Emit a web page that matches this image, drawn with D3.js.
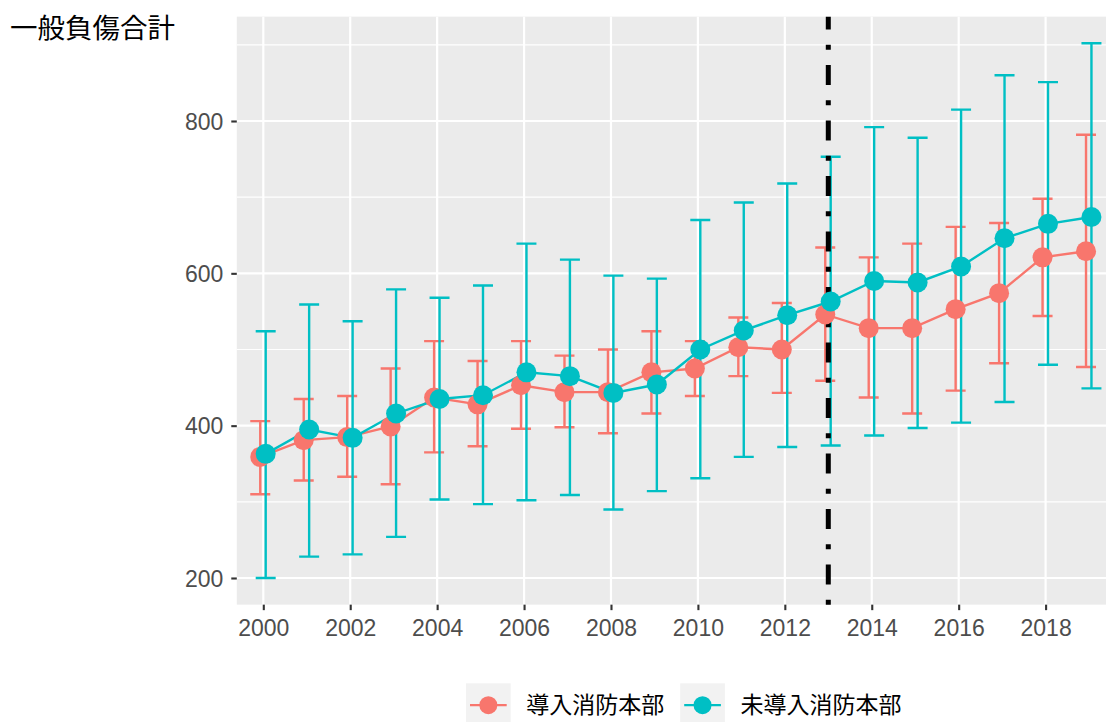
<!DOCTYPE html>
<html>
<head>
<meta charset="utf-8">
<script src="https://cdn.jsdelivr.net/npm/d3@7.9.0/dist/d3.min.js"></script>
<style>
  body { margin: 0; background: #fff; }
  svg { display: block; }
</style>
</head>
<body>
<svg id="chart" width="1106" height="722"></svg>
<script>
// years on the x axis
const years = [2000, 2001, 2002, 2003, 2004, 2005, 2006, 2007, 2008, 2009,
               2010, 2011, 2012, 2013, 2014, 2015, 2016, 2017, 2018, 2019];

// 導入消防本部
const introMean = [359, 381, 385, 399, 437, 428, 453, 444, 444, 470, 475, 503, 500, 546, 528, 528, 553, 574, 621, 629];
const introHigh = [406, 435, 439, 475, 511, 485, 511, 492, 500, 524, 511, 542, 561, 634, 621, 639, 661, 666, 698, 782];
const introLow  = [310, 328, 333, 323, 365, 373, 396, 398, 390, 416, 439, 465, 443, 459, 437, 416, 446, 482, 544, 477];

// 未導入消防本部
const otherMean = [363, 395, 384, 416, 435, 440, 470, 465, 443, 454, 500, 525, 545, 563, 590, 588, 609, 646, 665, 674];
const otherHigh = [524, 559, 537, 579, 568, 584, 639, 618, 597, 593, 670, 693, 718, 753, 792, 778, 815, 860, 851, 902];
const otherLow  = [200, 228, 231, 254, 303, 297, 302, 309, 290, 314, 331, 359, 372, 374, 387, 397, 404, 431, 480, 449];

const seriesNames = ['導入消防本部', '未導入消防本部'];
const yTicks = [200, 400, 600, 800];
const yMinor = [300, 500, 700, 900];
const xTicks = [2000, 2002, 2004, 2006, 2008, 2010, 2012, 2014, 2016, 2018];
const cutYear = 2013;
const yTitle = '一般負傷合計';

const colors = ['#F8766D', '#00BFC4'];

const series = [
    { name: seriesNames[0], color: colors[0], dodge: -0.07,
      rows: years.map((yr, i) => ({ year: yr, mean: introMean[i], hi: introHigh[i], lo: introLow[i] })) },
    { name: seriesNames[1], color: colors[1], dodge: 0.055,
      rows: years.map((yr, i) => ({ year: yr, mean: otherMean[i], hi: otherHigh[i], lo: otherLow[i] })) }
];

const svg = d3.select('#chart');

const x = d3.scaleLinear().domain([2000, 2018]).range([263.3, 1045.6]);
const y = d3.scaleLinear().domain([200, 800]).range([578, 121]);

const panelLeft = x(1999.39);
const panelRight = 1106;
const panelTop = y(937);
const panelBottom = y(165);

// panel background
svg.append('rect')
    .attr('x', panelLeft).attr('y', panelTop)
    .attr('width', panelRight - panelLeft)
    .attr('height', panelBottom - panelTop)
    .attr('fill', '#ebebeb');

const grid = svg.append('g');
grid.selectAll('line.minor')
    .data(yMinor)
    .join('line')
    .attr('class', 'minor')
    .attr('x1', panelLeft).attr('x2', panelRight)
    .attr('y1', d => y(d)).attr('y2', d => y(d))
    .attr('stroke', '#fff').attr('stroke-width', 1.1);
grid.selectAll('line.majorY')
    .data(yTicks)
    .join('line')
    .attr('class', 'majorY')
    .attr('x1', panelLeft).attr('x2', panelRight)
    .attr('y1', d => y(d)).attr('y2', d => y(d))
    .attr('stroke', '#fff').attr('stroke-width', 2.2);
grid.selectAll('line.majorX')
    .data(xTicks)
    .join('line')
    .attr('class', 'majorX')
    .attr('x1', d => x(d)).attr('x2', d => x(d))
    .attr('y1', panelTop).attr('y2', panelBottom)
    .attr('stroke', '#fff').attr('stroke-width', 2.2);

// axes
const xAxis = svg.append('g')
    .attr('transform', `translate(0,${panelBottom})`)
    .call(d3.axisBottom(x).tickValues(xTicks).tickFormat(d3.format('d')).tickSize(5.5).tickPadding(4));
const yAxis = svg.append('g')
    .attr('transform', `translate(${panelLeft},0)`)
    .call(d3.axisLeft(y).tickValues(yTicks).tickSize(5.5).tickPadding(8));

[xAxis, yAxis].forEach(ax => {
    ax.select('.domain').remove();
    ax.selectAll('.tick line').attr('stroke', '#333').attr('stroke-width', 2.1);
    ax.selectAll('.tick text')
        .attr('fill', '#4d4d4d')
        .style('font-family', '"Liberation Sans", Arial, sans-serif')
        .style('font-size', '23px');
});
xAxis.selectAll('.tick text').attr('dy', '0.97em');
yAxis.selectAll('.tick text').attr('dy', '0.36em');

// axis title at top left
svg.append('text')
    .attr('x', 10).attr('y', 37.5)
    .text(yTitle)
    .style('font-family', '"Noto Sans CJK JP", sans-serif')
    .style('font-size', '27.5px')
    .attr('fill', '#000');

const capHalf = 0.23;

// error bars
series.forEach(s => {
    const g = svg.append('g').attr('stroke', s.color).attr('stroke-width', 2.4).attr('fill', 'none');
    g.selectAll('path')
        .data(s.rows)
        .join('path')
        .attr('d', d => {
            const cx = x(d.year + s.dodge);
            const x0 = x(d.year + s.dodge - capHalf);
            const x1 = x(d.year + s.dodge + capHalf);
            return `M${x0},${y(d.hi)}H${x1}M${cx},${y(d.hi)}V${y(d.lo)}M${x0},${y(d.lo)}H${x1}`;
        });
});

// cut-off vertical line, dot-dash, drawn from the bottom up
svg.append('line')
    .attr('x1', x(cutYear)).attr('x2', x(cutYear))
    .attr('y1', panelBottom).attr('y2', panelTop)
    .attr('stroke', '#000')
    .attr('stroke-width', 5)
    .attr('stroke-dasharray', '5 15.25 20 15.25');

// lines
const line = d3.line().x(d => x(d.year)).y(d => y(d.mean));
series.forEach(s => {
    svg.append('path')
        .datum(s.rows.map(d => ({ year: d.year + s.dodge, mean: d.mean })))
        .attr('d', line)
        .attr('fill', 'none')
        .attr('stroke', s.color)
        .attr('stroke-width', 2.4);
});

// points
series.forEach(s => {
    svg.append('g').selectAll('circle')
        .data(s.rows)
        .join('circle')
        .attr('cx', d => x(d.year + s.dodge))
        .attr('cy', d => y(d.mean))
        .attr('r', 10)
        .attr('fill', s.color);
});

// legend
const legend = svg.append('g').attr('transform', 'translate(466,683.3)');
const keySize = 44.7;
let offset = 0;
series.forEach(s => {
    const item = legend.append('g').attr('transform', `translate(${offset},0)`);
    item.append('rect')
        .attr('width', keySize).attr('height', keySize)
        .attr('fill', '#f2f2f2');
    item.append('line')
        .attr('x1', 4).attr('x2', keySize - 4)
        .attr('y1', keySize / 2 - 0.5).attr('y2', keySize / 2 - 0.5)
        .attr('stroke', s.color).attr('stroke-width', 2.4);
    item.append('circle')
        .attr('cx', keySize / 2).attr('cy', keySize / 2 - 0.5)
        .attr('r', 9).attr('fill', s.color);
    const label = item.append('text')
        .attr('x', keySize + 15.5)
        .attr('y', keySize / 2 - 0.5)
        .attr('dy', '0.36em')
        .text(s.name)
        .style('font-family', '"Noto Sans CJK JP", sans-serif')
        .style('font-size', '23px')
        .attr('fill', '#000');
    offset += keySize + 15.5 + label.node().getComputedTextLength() + 16;
});
</script>
</body>
</html>
